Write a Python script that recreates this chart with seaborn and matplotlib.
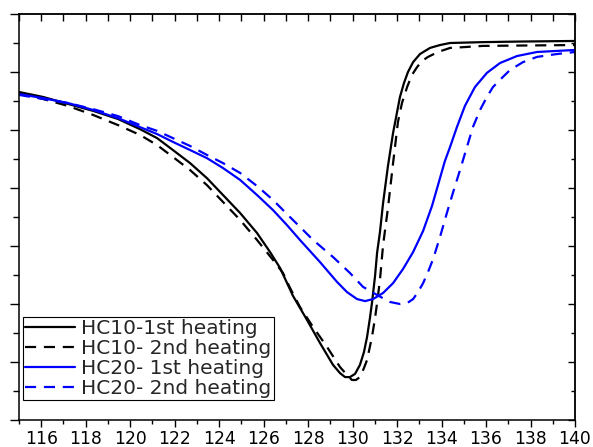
import matplotlib
matplotlib.use("Agg")
import matplotlib.pyplot as plt
import numpy as np
import pandas as pd
import seaborn as sns
from matplotlib.ticker import MultipleLocator, NullFormatter

# ---------------- data ----------------
series_names = ["HC10-1st heating", "HC10- 2nd heating",
                "HC20- 1st heating", "HC20- 2nd heating"]

hc10_1st_x = [115.0, 116.08, 117.2, 118.33, 119.45, 120.44, 121.21, 121.92, 122.69,
              123.45, 124.17, 124.94, 125.70, 126.29, 126.74, 127.32, 127.95, 128.53,
              129.12, 129.43, 129.66, 129.88, 130.11, 130.33, 130.51, 130.65, 130.78,
              130.87, 131.01, 131.10, 131.23, 131.37, 131.59, 131.82, 132.13, 132.31,
              132.49, 132.72, 133.03, 133.48, 133.93, 134.38, 135.86, 137.53, 140.0]
hc10_1st_y = [11.31, 11.14, 10.90, 10.66, 10.38, 10.03, 9.72, 9.31, 8.86,
              8.34, 7.76, 7.14, 6.45, 5.79, 5.24, 4.28, 3.45, 2.66,
              1.90, 1.62, 1.48, 1.48, 1.59, 1.90, 2.34, 2.86, 3.52,
              4.03, 4.97, 5.76, 6.48, 7.48, 8.76, 9.90, 11.14, 11.62,
              12.0, 12.34, 12.62, 12.83, 12.93, 13.0, 13.03, 13.05, 13.07]

hc10_2nd_x = [115.0, 116.08, 117.2, 118.33, 119.45, 120.44, 121.21, 121.92, 122.69,
              123.45, 124.17, 124.94, 125.70, 126.42, 126.87, 127.19, 127.63, 128.22,
              128.85, 129.43, 129.75, 129.97, 130.15, 130.33, 130.51, 130.65, 130.87,
              131.01, 131.10, 131.23, 131.37, 131.59, 131.82, 132.04, 132.22, 132.45,
              132.67, 132.90, 133.12, 133.39, 133.84, 134.38, 135.05, 135.86, 140.0]
hc10_2nd_y = [11.28, 11.07, 10.83, 10.52, 10.17, 9.83, 9.48, 9.07, 8.62,
              8.10, 7.52, 6.90, 6.21, 5.52, 5.07, 4.55, 3.90, 3.21,
              2.52, 1.83, 1.55, 1.38, 1.38, 1.48, 1.79, 2.07, 2.86,
              3.52, 4.03, 4.83, 6.03, 7.31, 8.86, 10.28, 10.93, 11.48,
              11.90, 12.17, 12.38, 12.52, 12.69, 12.83, 12.86, 12.90, 12.93]

hc20_1st_x = [115.0, 116.08, 117.2, 118.33, 119.45, 120.44, 121.21, 121.92, 122.69,
              123.45, 124.17, 124.94, 125.70, 126.42, 127.05, 127.63, 128.53, 129.30,
              129.75, 130.20, 130.56, 130.92, 131.37, 131.82, 132.27, 132.72, 133.17,
              133.57, 133.84, 134.15, 134.38, 134.69, 135.05, 135.50, 136.04, 136.63,
              137.39, 138.29, 140.0]
hc20_1st_y = [11.24, 11.10, 10.93, 10.69, 10.41, 10.10, 9.86, 9.59, 9.31,
              9.03, 8.69, 8.28, 7.76, 7.24, 6.72, 6.21, 5.45, 4.76,
              4.41, 4.17, 4.10, 4.17, 4.38, 4.72, 5.21, 5.79, 6.52,
              7.38, 8.10, 8.93, 9.41, 10.10, 10.83, 11.48, 11.97, 12.31,
              12.55, 12.69, 12.76]

hc20_2nd_x = [115.0, 116.08, 117.2, 118.33, 119.45, 120.44, 121.21, 121.92, 122.69,
              123.45, 124.17, 124.94, 125.70, 126.42, 127.05, 127.63, 128.22, 129.12,
              129.88, 130.47, 131.10, 131.68, 132.13, 132.45, 132.72, 132.94, 133.17,
              133.39, 133.62, 133.93, 134.24, 134.51, 134.83, 135.14, 135.41, 135.73,
              136.04, 136.31, 136.76, 137.08, 137.66, 138.29, 139.19, 140.0]
hc20_2nd_y = [11.21, 11.07, 10.93, 10.72, 10.48, 10.17, 9.97, 9.72, 9.45,
              9.14, 8.86, 8.52, 8.07, 7.59, 7.10, 6.66, 6.21, 5.62,
              5.07, 4.59, 4.31, 4.07, 4.0, 4.03, 4.17, 4.41, 4.72,
              5.10, 5.55, 6.31, 7.14, 7.83, 8.62, 9.41, 10.10, 10.69,
              11.14, 11.48, 11.83, 12.07, 12.34, 12.52, 12.62, 12.69]

x_ticks = [116, 118, 120, 122, 124, 126, 128, 130, 132, 134, 136, 138, 140]

# ---------------- build table ----------------
frames = []
for name, xs, ys in zip(series_names,
                        [hc10_1st_x, hc10_2nd_x, hc20_1st_x, hc20_2nd_x],
                        [hc10_1st_y, hc10_2nd_y, hc20_1st_y, hc20_2nd_y]):
    frames.append(pd.DataFrame({"T": xs, "H": ys, "series": name}))
df = pd.concat(frames, ignore_index=True)

palette = {series_names[0]: "black", series_names[1]: "black",
           series_names[2]: "#0000ff", series_names[3]: "#0000ff"}
dashes = {series_names[0]: "", series_names[1]: (5, 3.5),
          series_names[2]: "", series_names[3]: (5, 3.5)}

sns.set_style("white")
plt.rcParams["font.family"] = ["DejaVu Sans"]

fig = plt.figure(figsize=(5.93, 4.47), dpi=100)
ax = fig.add_axes([19 / 593, 1 - 420 / 447, 556 / 593, 406 / 447])

sns.lineplot(data=df, x="T", y="H", hue="series", style="series",
             hue_order=series_names, style_order=series_names,
             palette=palette, dashes=dashes, linewidth=1.6,
             estimator=None, sort=False, ax=ax)
for ln in ax.get_lines():
    ln.set_solid_joinstyle("round")
    ln.set_dash_joinstyle("round")

ax.set_xlim(115, 140)
ax.set_ylim(0, 14)
ax.set_xlabel("")
ax.set_ylabel("")
ax.set_xticks(x_ticks)
ax.xaxis.set_minor_locator(MultipleLocator(1))
ax.yaxis.set_major_locator(MultipleLocator(2))
ax.yaxis.set_minor_locator(MultipleLocator(1))
ax.yaxis.set_major_formatter(NullFormatter())
ax.set_xticklabels([str(t) for t in x_ticks])

for s in ax.spines.values():
    s.set_color("black")
    s.set_linewidth(1.1)

ax.tick_params(axis="both", which="both", direction="out", color="black",
               width=1.0, top=False, right=False, bottom=True, left=True)
ax.tick_params(axis="x", which="major", length=5, pad=2, labelsize=12.3,
               labelcolor="black")
ax.tick_params(axis="x", which="minor", length=3)
ax.tick_params(axis="y", which="major", length=6.5)
ax.tick_params(axis="y", which="minor", length=4)

# mirrored ticks pointing inward on top and right
top = ax.secondary_xaxis("top")
top.set_xticks(x_ticks)
top.xaxis.set_minor_locator(MultipleLocator(1))
top.tick_params(axis="x", which="both", direction="in", length=5, width=1.0,
                color="black", labeltop=False)
top.spines["top"].set_linewidth(1.1)
right = ax.secondary_yaxis("right")
right.yaxis.set_major_locator(MultipleLocator(2))
right.yaxis.set_minor_locator(MultipleLocator(1))
right.tick_params(axis="y", which="major", direction="in", length=5, width=1.0,
                  color="black", labelright=False)
right.tick_params(axis="y", which="minor", direction="in", length=3, width=1.0,
                  color="black", labelright=False)
right.spines["right"].set_linewidth(1.1)

handles, labels = ax.get_legend_handles_labels()
keep = [(h, l) for h, l in zip(handles, labels) if l in series_names]
leg = ax.legend([h for h, _ in keep], [l for _, l in keep],
                loc="lower left", bbox_to_anchor=(0.007, 0.049),
                borderaxespad=0, fontsize=14.5, frameon=True, fancybox=False,
                edgecolor="black", framealpha=1, borderpad=0.1,
                labelspacing=0.05, handlelength=2.5, handletextpad=0.3)
leg.get_frame().set_linewidth(0.8)

fig.savefig("out.png", dpi=100)
